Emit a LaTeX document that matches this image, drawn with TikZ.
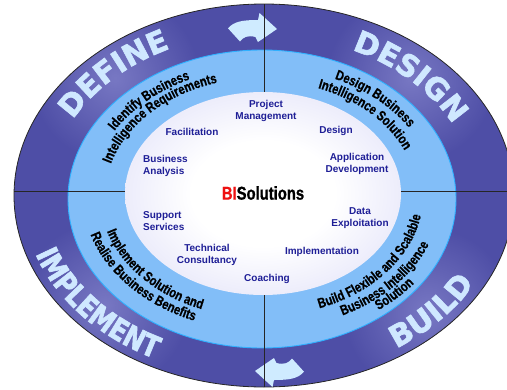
\documentclass[tikz,border=0pt]{standalone}
\usepackage{fontspec}
\setmainfont{Liberation Sans}
\newfontfamily\ringfont{Liberation Sans Bold}[FakeStretch=0.8, FakeBold=0.6]
\newfontfamily\bigfont{DejaVu Sans Bold}[FakeBold=2]
\newfontfamily\bignarrow{DejaVu Sans Bold}[FakeStretch=0.82, FakeBold=2]
\newfontfamily\titlefont{Liberation Sans Bold}[FakeStretch=0.8, FakeBold=1]
\usetikzlibrary{decorations.text,fadings}

\definecolor{ringdark}{HTML}{0E0E88}
\definecolor{ringlight}{HTML}{4E4EA6}
\definecolor{skyin}{HTML}{82BEF8}
\definecolor{skyout}{HTML}{9FD0FF}
\definecolor{skyedge}{HTML}{2FB0FF}
\definecolor{lavedge}{HTML}{C6C6F3}
\definecolor{innerblue}{HTML}{1E1E96}
\definecolor{lblc}{HTML}{CFE8FF}
\definecolor{arrowc}{HTML}{CFEBFF}
\definecolor{glowc}{HTML}{8A8AD0}
\definecolor{bired}{HTML}{EE1111}

\pgfdeclareradialshading{outershade}{\pgfpoint{0bp}{0bp}}{color(0bp)=(ringlight); color(37bp)=(ringlight); color(50bp)=(ringdark)}
\pgfdeclareradialshading{skyshade}{\pgfpoint{0bp}{0bp}}{color(0bp)=(skyin); color(36bp)=(skyin); color(42bp)=(skyout); color(50bp)=(skyout)}
\pgfdeclareradialshading{innershade}{\pgfpoint{0bp}{0bp}}{color(0bp)=(white); color(13bp)=(white); color(50bp)=(lavedge)}
\tikzfading[name=glowfade, inner color=transparent!30, outer color=transparent!100]

\newcommand\fmtBig{\bigfont\fontsize{30}{30}\selectfont\color{lblc}}
\newcommand\fmtNarrow{\bignarrow\fontsize{30}{30}\selectfont\color{lblc}}
\newcommand\fmtRing{\ringfont\fontsize{14}{14}\selectfont\color{black}}
\newcommand\fmtInner{\bfseries\fontsize{10}{12}\selectfont}

\begin{document}
\begin{tikzpicture}[x=1pt,y=-1pt,
  inlabel/.style={font=\fmtInner, text=innerblue, align=center, inner sep=0pt},
  divider/.style={draw=black!85, line width=0.9pt},
  bluearrow/.style={fill=arrowc},
  glow/.style={fill=glowc, path fading=glowfade},
  ringtext/.style={decorate, decoration={text along path, text align=center, text={#1}}}]

\useasboundingbox (0,0) rectangle (507,389);
\clip (0,0) rectangle (507,389);

% outer ring
\shade[shading=outershade] (264,195.5) ellipse [x radius=250pt, y radius=191.5pt];

% glows behind the phase labels, kept inside the outer ring
\begin{scope}
  \clip (264,195.5) ellipse [x radius=250pt, y radius=191.5pt];
  \path[glow] (115,78) circle (85pt);
  \path[glow] (411,78) circle (85pt);
  \path[glow] (105,305) circle (85pt);
  \path[glow] (428,312) circle (85pt);
\end{scope}
\draw[black!85, line width=0.8pt] (264,195.5) ellipse [x radius=250pt, y radius=191.5pt];

% light ring
\shade[shading=skyshade] (262,199) ellipse [x radius=194pt, y radius=149pt];
\draw[skyedge, line width=0.9pt] (262,199) ellipse [x radius=194pt, y radius=149pt];

% arrows
\path[bluearrow, shift={(252,27)}] (-24,1.3) .. controls (-18,-5.5) and (-10,-7) .. (6,-7) -- (7.5,-14) -- (25,2) -- (6,15) -- (3.5,10) .. controls (-4,8) and (-9,10) .. (-12,14.5) -- cycle;
\path[bluearrow, shift={(280,373)}, rotate=180] (-24,1.3) .. controls (-18,-5.5) and (-10,-7) .. (6,-7) -- (7.5,-14) -- (25,2) -- (6,15) -- (3.5,10) .. controls (-4,8) and (-9,10) .. (-12,14.5) -- cycle;

% dividers
\coordinate (vt) at (264.3,4);
\coordinate (vb) at (264.3,387);
\coordinate (hl) at (14,191.7);
\coordinate (hr) at (507,191.7);
\draw[divider] (vt) -- (vb);
\draw[divider] (hl) -- (hr);

% inner ellipse
\shade[shading=innershade] (263,193.5) ellipse [x radius=138pt, y radius=101.5pt];

% phase labels
\path[ringtext={|\fmtBig|DEFINE}] plot[domain=195:255, samples=60, variable=\t] ({263+215*cos(\t)},{196+163.4*sin(\t)});
\path[ringtext={|\fmtBig|DESIGN}] plot[domain=285.3:345.3, samples=60, variable=\t] ({263+212*cos(\t)},{196+161*sin(\t)});
\path[ringtext={|\fmtNarrow|IMPLEMENT}] plot[domain=170:110, samples=60, variable=\t] ({263+240*cos(\t)},{196+182.4*sin(\t)});
\path[ringtext={|\fmtBig|BUILD}] plot[domain=71:11, samples=60, variable=\t] ({263+241*cos(\t)},{196+183*sin(\t)});

% ring texts
\path[ringtext={|\fmtRing|Identify Business}] plot[domain=185:265, samples=80, variable=\t] ({263+172*cos(\t)},{196+129*sin(\t)});
\path[ringtext={|\fmtRing|Intelligence Requirements}] plot[domain=183:263, samples=80, variable=\t] ({263+158*cos(\t)},{196+118.5*sin(\t)});
\path[ringtext={|\fmtRing|Design Business}] plot[domain=274:354, samples=80, variable=\t] ({263+172*cos(\t)},{196+129*sin(\t)});
\path[ringtext={|\fmtRing|Intelligence Solution}] plot[domain=276:356, samples=80, variable=\t] ({263+154*cos(\t)},{196+115.5*sin(\t)});
\path[ringtext={|\fmtRing|Implement Solution and}] plot[domain=179.5:99.5, samples=80, variable=\t] ({263+163*cos(\t)},{196+122.25*sin(\t)});
\path[ringtext={|\fmtRing|Realise Business Benefits}] plot[domain=179.8:99.8, samples=80, variable=\t] ({263+180*cos(\t)},{196+135*sin(\t)});
\path[ringtext={|\fmtRing|Build Flexible and Scalable}] plot[domain=78:-2, samples=80, variable=\t] ({263+160*cos(\t)},{196+120*sin(\t)});
\path[ringtext={|\fmtRing|Business Intelligence}] plot[domain=80:0, samples=80, variable=\t] ({263+178*cos(\t)},{196+133.5*sin(\t)});
\path[ringtext={|\fmtRing|Solution}] plot[domain=82:2, samples=80, variable=\t] ({263+191*cos(\t)},{196+143.25*sin(\t)});

% inner labels
\node[inlabel] (pm) at (266,111) {Project\\Management};
\node[inlabel] (fac) at (192,132) {Facilitation};
\node[inlabel] (des) at (336,131) {Design};
\node[inlabel, anchor=west, align=left] (ba) at (143,166) {Business\\Analysis};
\node[inlabel] (ad) at (357,164) {Application\\Development};
\node[inlabel, anchor=west, align=left] (ss) at (143,221) {Support\\Services};
\node[inlabel] (de) at (360,218) {Data\\Exploitation};
\node[inlabel] (tc) at (207,255) {Technical\\Consultancy};
\node[inlabel] (imp) at (322,252) {Implementation};
\node[inlabel] (coach) at (267,279) {Coaching};
\node[inner sep=0pt] (title) at (263,193) {\titlefont\fontsize{18.5}{20}\selectfont\textcolor{bired}{BI}Solutions};
\end{tikzpicture}
\end{document}
